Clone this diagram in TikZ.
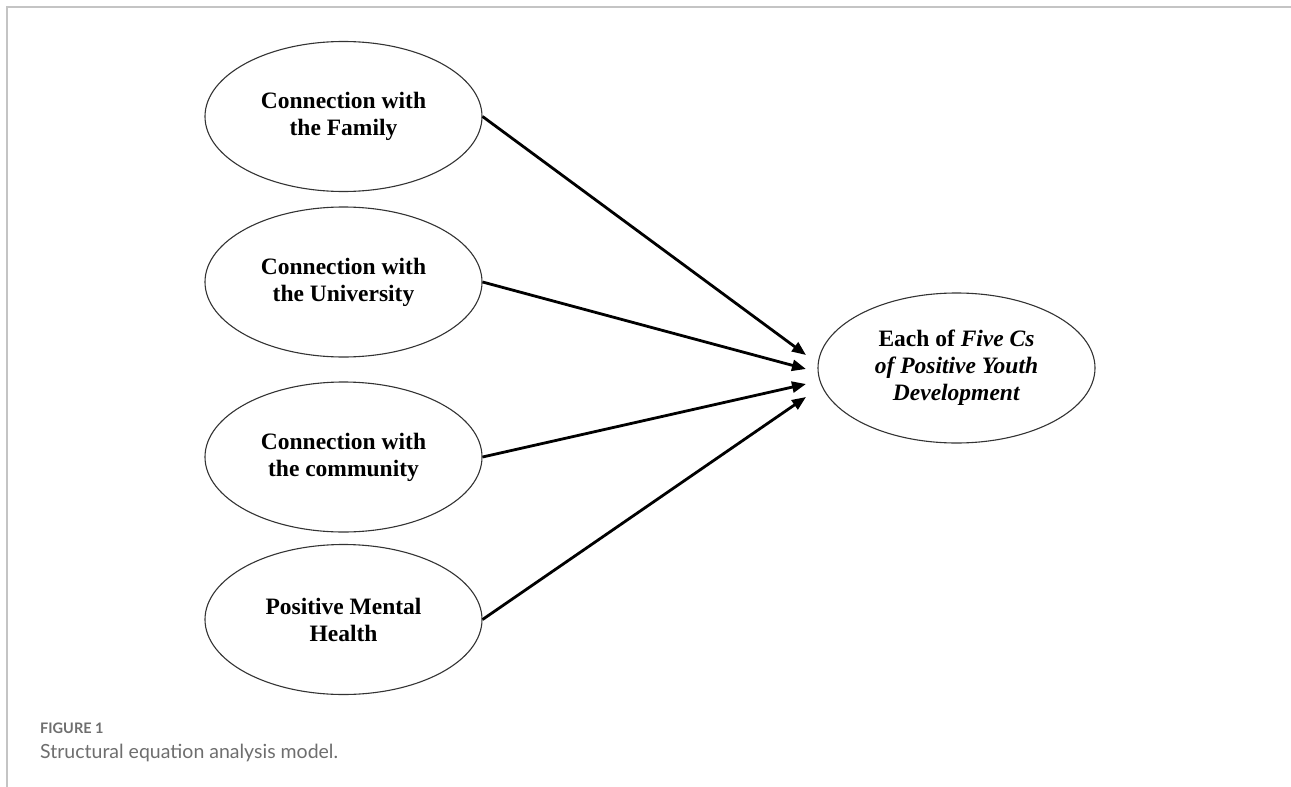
\documentclass[tikz,border=0pt]{standalone}
\usepackage{fontspec}
\setmainfont{Liberation Serif}
\newfontfamily\capfont{Lato}
\usetikzlibrary{shapes.geometric,arrows.meta}
\definecolor{framegray}{HTML}{C4C4C4}
\definecolor{capgray}{HTML}{6E6E6E}
\definecolor{edgegray}{HTML}{333333}
\tikzset{
  latent/.style={ellipse, draw=edgegray, line width=1.1pt, minimum width=277pt, minimum height=150pt,
    inner sep=0pt, align=center, font=\fontsize{23.5}{27}\selectfont\bfseries},
  arr/.style={line width=2.8pt, -{Triangle[length=14pt,width=11pt]}},
  frameline/.style={draw=framegray, line width=2pt},
}
\begin{document}
\begin{tikzpicture}[x=1pt,y=-1pt]
\useasboundingbox (0,0) rectangle (1291,787);
\coordinate (fa) at (7,787);
\coordinate (fb) at (7,7);
\coordinate (fc) at (1291,7);
\draw[frameline] (fa) -- (fb) -- (fc);

\node[latent] (fam) at (343.5,116.5) {Connection with\\the Family};
\node[latent] (uni) at (343.5,282) {Connection with\\the University};
\node[latent] (com) at (343.5,457) {Connection with\\the community};
\node[latent] (mh)  at (343.5,619.5) {Positive Mental\\Health};
\node[latent] (pyd) at (956.5,368) {Each of \textit{Five Cs}\\\textit{of Positive Youth}\\\textit{Development}};

\coordinate (t1) at (806,355);
\coordinate (t2) at (806,369);
\coordinate (t3) at (806,384);
\coordinate (t4) at (806,397);
\draw[arr] (fam.east) -- (t1);
\draw[arr] (uni.east) -- (t2);
\draw[arr] (com.east) -- (t3);
\draw[arr] (mh.east) -- (t4);

\node[anchor=west, text=capgray, font=\capfont\bfseries\fontsize{14.5}{17}\selectfont, inner sep=0pt] (figlab) at (40,728) {FIGURE 1};
\node[anchor=west, text=capgray, font=\capfont\fontsize{19.5}{23}\selectfont, inner sep=0pt] (figcap) at (40,753) {Structural equation analysis model.};
\end{tikzpicture}
\end{document}
